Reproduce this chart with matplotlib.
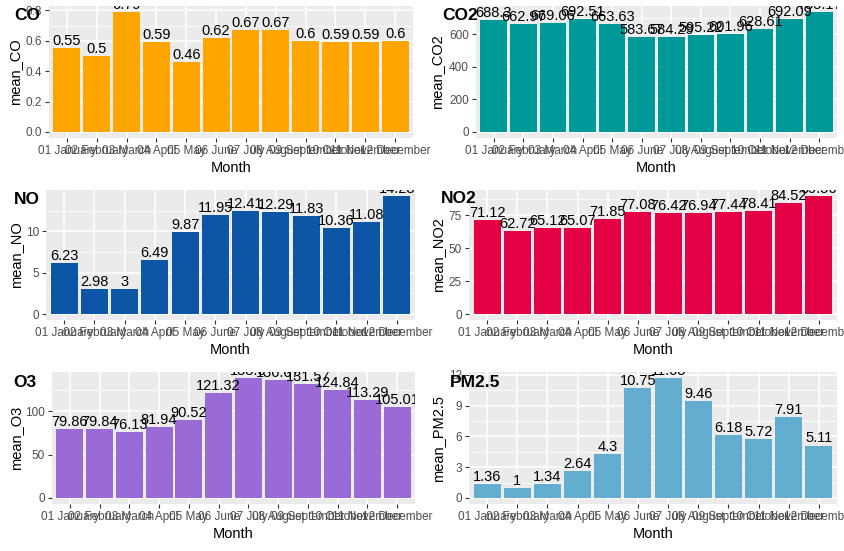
import matplotlib
matplotlib.use("Agg")
import matplotlib.pyplot as plt
from matplotlib.ticker import MultipleLocator, AutoMinorLocator

plt.rcParams['font.family'] = ['Liberation Sans', 'DejaVu Sans']

months = ["01 January", "02 February", "03 March", "04 April", "05 May", "06 June",
          "07 July", "08 August", "09 September", "10 October", "11 November", "12 December"]

co = [0.55, 0.5, 0.79, 0.59, 0.46, 0.62, 0.67, 0.67, 0.6, 0.59, 0.59, 0.6]
co2 = [688.3, 662.97, 669.06, 692.51, 663.63, 583.67, 584.29, 595.22, 601.96, 628.61, 692.09, 735.17]
no = [6.23, 2.98, 3, 6.49, 9.87, 11.95, 12.41, 12.29, 11.83, 10.36, 11.08, 14.28]
no2 = [71.12, 62.72, 65.12, 65.07, 71.85, 77.08, 76.42, 76.94, 77.44, 78.41, 84.52, 89.56]
o3 = [79.86, 79.84, 76.13, 81.94, 90.52, 121.32, 138.6, 136.67, 131.57, 124.84, 113.29, 105.01]
pm25 = [1.36, 1, 1.34, 2.64, 4.3, 10.75, 11.68, 9.46, 6.18, 5.72, 7.91, 5.11]

W, H = 845, 551
fig = plt.figure(figsize=(W / 100, H / 100), dpi=100)


def fx(x):
    return x / W


def fy(y):
    return 1 - y / H


panels = [
    # name, values, color, panel rect (l, t, r, b), tick step, title xy, ylabel x
    ("CO", co, "#FFA500", (49, 6, 413, 138), 0.2, (14, 8), 15),
    ("CO2", co2, "#009999", (476, 6, 837, 138), 200, (442, 8), 437),
    ("NO", no, "#0D56A6", (46, 190, 415, 320), 5, (14, 192), 16),
    ("NO2", no2, "#E30045", (469, 190, 837, 320), 25, (441, 191), 438),
    ("O3", o3, "#9A6AD6", (52, 372, 415, 504), 50, (13, 375), 16),
    ("PM2.5", pm25, "#63AED0", (469, 372, 837, 504), 3, (450, 375), 438),
]

for name, vals, color, (l, t, r, b), step, (tx, ty), ylx in panels:
    ax = fig.add_axes([fx(l), fy(b), fx(r) - fx(l), fy(t) - fy(b)])
    ax.set_facecolor("#EBEBEB")
    n = len(vals)
    xs = list(range(1, n + 1))
    ax.bar(xs, vals, width=0.9, color=color, zorder=2)
    for x, v in zip(xs, vals):
        ax.text(x, v, f"{v:g}", ha="center", va="bottom", fontsize=10.5,
                color="black", clip_on=True, zorder=3)
    vmax = max(vals)
    ax.set_xlim(0.4, n + 0.6)
    ax.set_ylim(-0.05 * vmax, 1.05 * vmax)
    ax.yaxis.set_major_locator(MultipleLocator(step))
    ax.yaxis.set_minor_locator(MultipleLocator(step / 2))
    ax.set_xticks(xs)
    ax.set_xticklabels(months)
    ax.grid(True, which="major", color="white", linewidth=1.1, zorder=0)
    ax.grid(True, which="minor", axis="y", color="white", linewidth=0.55, zorder=0)
    ax.set_axisbelow(True)
    for s in ax.spines.values():
        s.set_visible(False)
    ax.tick_params(axis="both", which="major", length=3, width=0.8, color="#333333",
                   labelsize=8.5, labelcolor="#4D4D4D", pad=2)
    ax.tick_params(axis="y", which="minor", length=0)
    if step < 1:
        ax.yaxis.set_major_formatter(plt.FuncFormatter(lambda v, p: f"{v:.1f}"))
    else:
        ax.yaxis.set_major_formatter(plt.FuncFormatter(lambda v, p: f"{v:g}"))
    # axis titles
    fig.text(fx((l + r) / 2), fy(b + 30), "Month", ha="center", va="center",
             fontsize=10.5, color="black")
    fig.text(fx(ylx), fy((t + b) / 2), "mean_" + name, ha="center", va="center",
             rotation=90, fontsize=10.5, color="black")
    fig.text(fx(tx), fy(ty), name, ha="left", va="top", fontsize=12.5,
             fontweight="bold", color="black", zorder=10)

fig.savefig("out.png", dpi=100, facecolor="white")
